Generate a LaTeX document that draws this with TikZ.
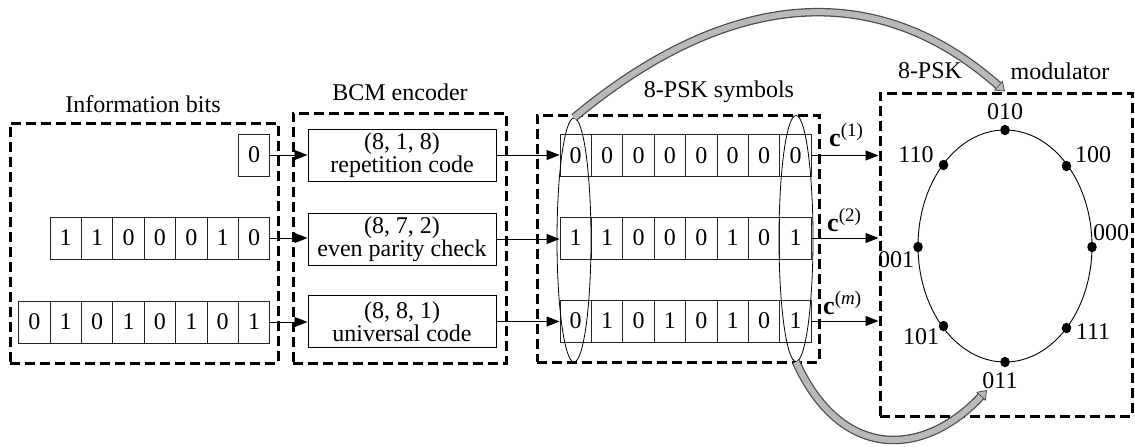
\documentclass[tikz,border=0pt]{standalone}
\usepackage{fontspec}
\setmainfont{Liberation Serif}
\usetikzlibrary{arrows.meta,shapes.geometric,calc}

\newcommand{\cw}[1]{{\fontsize{26}{26}\selectfont\textbf{c}}\raisebox{10pt}{\fontsize{19}{19}\selectfont(#1)}}

\begin{document}
\begin{tikzpicture}[x=1pt,y=-1pt,
  font=\fontsize{24}{20}\selectfont,
  group/.style 2 args={draw, line width=3pt, dash pattern=on 10pt off 5pt,
    minimum width=#1, minimum height=#2, inner sep=0},
  cell/.style={draw=black!85, line width=0.9pt, minimum width=31.4pt,
    minimum height=42pt, inner sep=0},
  code/.style={draw, line width=1pt, minimum width=188pt, minimum height=52pt,
    align=center, inner sep=0},
  flow/.style={line width=0.9pt, -{Triangle[length=13pt,width=10pt]}},
  sel/.style={draw, ellipse, line width=0.8pt, minimum width=34pt, inner sep=0},
  pt/.style={ellipse, fill, inner sep=0, minimum width=9.5pt, minimum height=10.5pt},
  band/.style={line width=6pt, draw=gray!55, shorten >=9pt,
    preaction={draw=black!70, line width=8.5pt, shorten >=0pt,
      -{Triangle[length=9pt,width=13pt,line width=0.8pt,fill=gray!55]}}}
]
\useasboundingbox (0,0) rectangle (1135,447);

% dashed group frames
\node[group={268pt}{240pt}] (info) at (144,243) {};
\node[group={213pt}{250pt}] (enc) at (399.5,238) {};
\node[group={282pt}{247pt}] (sym) at (678,238.5) {};
\node[group={252pt}{323pt}] (mod) at (1006,254.5) {};

% titles
\node (tinfo) at (143,104) {Information bits};
\node (tenc) at (400,92) {BCM encoder};
\node (tsym) at (719,92) {8-PSK symbols};
\node (tmodA) at (930,71) {8-PSK};
\node (tmodB) at (1060,71) {modulator};

% information bits
\node[cell] (i1) at (254.1,155) {0};
\foreach \b [count=\k] in {1,1,0,0,0,1,0}
  \node[cell] (i2-\k) at ({65.7+31.4*(\k-1)},238) {\b};
\foreach \b [count=\k] in {0,1,0,1,0,1,0,1}
  \node[cell] (i3-\k) at ({34.3+31.4*(\k-1)},322) {\b};

% component codes
\node[code] (e1) at (402,155) {(8, 1, 8)\\repetition code};
\node[code] (e2) at (402,239) {(8, 7, 2)\\even parity check};
\node[code] (e3) at (402,321.5) {(8, 8, 1)\\universal code};

% code words
\foreach \b [count=\k] in {0,0,0,0,0,0,0,0}
  \node[cell] (s1-\k) at ({575.7+31.4*(\k-1)},155.5) {\b};
\foreach \b [count=\k] in {1,1,0,0,0,1,0,1}
  \node[cell] (s2-\k) at ({575.7+31.4*(\k-1)},238) {\b};
\foreach \b [count=\k] in {0,1,0,1,0,1,0,1}
  \node[cell] (s3-\k) at ({575.7+31.4*(\k-1)},321) {\b};

% symbol columns
\node[sel, minimum height=244pt] (selL) at (574,240) {};
\node[sel, minimum height=246pt] (selR) at (796,238.5) {};

% connections
\draw[flow] (i1.east) -- (e1.west |- i1.east);
\draw[flow] (i2-7.east) -- (e2.west |- i2-7.east);
\draw[flow] (i3-8.east) -- (e3.west |- i3-8.east);
\draw[flow] (e1.east) -- (s1-1.west |- e1.east);
\draw[flow] (e2.east) -- (s2-1.west |- e2.east);
\draw[flow] (e3.east) -- (s3-1.west |- e3.east);
\draw[flow] (s1-8.east) -- (mod.west |- s1-8.east);
\draw[flow] (s2-8.east) -- (mod.west |- s2-8.east);
\draw[flow] (s3-8.east) -- (mod.west |- s3-8.east);

\node[anchor=base west, inner sep=0] (c1) at (829,146) {\cw{1}};
\node[anchor=base west, inner sep=0] (c2) at (827,231) {\cw{2}};
\node[anchor=base west, inner sep=0] (cm) at (823,314) {\cw{\textit{m}}};

% 8-PSK constellation
\node[draw, ellipse, line width=0.9pt, minimum width=174pt, minimum height=232pt,
  inner sep=0] (cons) at (1005,246) {};
\node[pt] (p010) at (1005,130) {};
\node[pt] (p011) at (1005,362) {};
\node[pt] (p001) at (918,247) {};
\node[pt] (p000) at (1092,247) {};
\node[pt] (p110) at (943.5,165) {};
\node[pt] (p100) at (1066.5,166) {};
\node[pt] (p101) at (943.5,326) {};
\node[pt] (p111) at (1066.5,328) {};
\node (l010) at (1005,112) {010};
\node (l110) at (916,155) {110};
\node (l100) at (1093,155) {100};
\node (l000) at (1111,233) {000};
\node (l001) at (896,260) {001};
\node (l101) at (921,337) {101};
\node (l111) at (1093,332) {111};
\node (l011) at (1000,381) {011};

% mapping arrows
\coordinate (into) at (mod.north -| p010);
\coordinate (out) at (987,390);
\draw[band] (selL.north) .. controls (720,-4) and (870,-28) .. (into);
\draw[band] (selR.south) .. controls (841,461) and (923,458) .. (out);
\end{tikzpicture}
\end{document}
